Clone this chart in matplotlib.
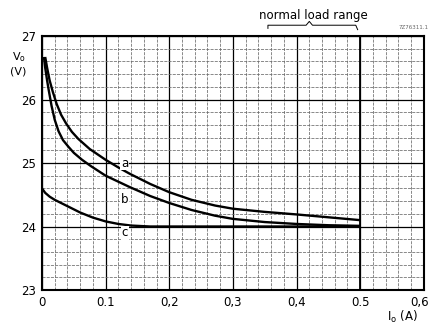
import matplotlib
matplotlib.use("Agg")
import matplotlib.pyplot as plt
from matplotlib.ticker import MultipleLocator
from matplotlib.transforms import ScaledTranslation

# Data
a_I = [0.005, 0.008, 0.012, 0.017, 0.023, 0.03, 0.038, 0.047, 0.057, 0.075, 0.1, 0.12, 0.138, 0.17, 0.2, 0.235, 0.272, 0.3, 0.35, 0.4, 0.45, 0.5]
a_V = [26.67, 26.5, 26.3, 26.12, 25.93, 25.76, 25.62, 25.49, 25.38, 25.22, 25.05, 24.93, 24.83, 24.67, 24.54, 24.42, 24.33, 24.28, 24.23, 24.19, 24.145, 24.10]
b_I = [0.003, 0.005, 0.008, 0.0105, 0.015, 0.02, 0.026, 0.033, 0.042, 0.05, 0.063, 0.077, 0.1, 0.138, 0.17, 0.2, 0.235, 0.272, 0.3, 0.35, 0.4, 0.45, 0.5]
b_V = [26.67, 26.5, 26.3, 26.15, 25.9, 25.68, 25.5, 25.36, 25.25, 25.16, 25.05, 24.95, 24.80, 24.62, 24.48, 24.37, 24.26, 24.17, 24.12, 24.07, 24.04, 24.02, 24.01]
c_I = [0.0, 0.005, 0.012, 0.02, 0.03, 0.04, 0.05, 0.06, 0.07, 0.08, 0.1, 0.12, 0.14, 0.17, 0.2, 0.3, 0.4, 0.5]
c_V = [24.6, 24.53, 24.47, 24.42, 24.37, 24.32, 24.27, 24.22, 24.18, 24.14, 24.08, 24.04, 24.015, 24.0, 24.0, 24.0, 24.0, 24.0]

x_ticks = [0, 0.1, 0.2, 0.3, 0.4, 0.5, 0.6]
x_ticklabels = ["0", "0.1", "0,2", "0,3", "0,4", "0.5", "0,6"]
y_ticks = [23, 24, 25, 26, 27]
curve_labels = ["a", "b", "c"]
label_pos = [(0.13, 25.0), (0.13, 24.43), (0.13, 23.9)]

fig = plt.figure(figsize=(4.3, 3.25), dpi=100)
ax = fig.add_axes([0.0977, 0.1077, 0.888, 0.7815])
ax.set_xlim(0, 0.6)
ax.set_ylim(23, 27)

ax.xaxis.set_minor_locator(MultipleLocator(0.02))
ax.yaxis.set_minor_locator(MultipleLocator(0.2))
ax.set_xticks(x_ticks)
ax.set_xticklabels(x_ticklabels)
ax.set_yticks(y_ticks)
ax.grid(which="minor", color="#6a6a6a", lw=0.55, ls=(0, (4, 1.5)))
ax.grid(which="major", color="black", lw=0.9)
ax.axvline(0.5, color="black", lw=1.3)
ax.tick_params(which="both", length=0, labelsize=8.5, pad=4)
for s in ax.spines.values():
    s.set_linewidth(1.5)
last = ax.get_xticklabels()[-1]
last.set_transform(last.get_transform() + ScaledTranslation(-4 / 100, 0, fig.dpi_scale_trans))

for I, V in [(a_I, a_V), (b_I, b_V), (c_I, c_V)]:
    ax.plot(I, V, color="black", lw=1.7, solid_capstyle="butt", solid_joinstyle="round")

for lab, (x, y) in zip(curve_labels, label_pos):
    ax.text(x, y, lab, fontsize=8.5, ha="center", va="center",
            bbox=dict(fc="white", ec="none", pad=0.5))

fig.text(0.043, 0.805, "V$_\\mathrm{o}$\n(V)", fontsize=8, ha="center", va="center", linespacing=1.25)
fig.text(0.935, 0.025, "I$_\\mathrm{o}$ (A)", fontsize=8.5, ha="center", va="center")
fig.text(0.728, 0.953, "normal load range", fontsize=8.5, ha="center", va="center")
fig.text(0.962, 0.915, "7Z76311.1", fontsize=4, ha="center", va="center", color="#666666")

# brace over normal load range
ax.plot([0.355, 0.355, 0.415, 0.42, 0.425, 0.493, 0.496], [27.12, 27.17, 27.17, 27.23, 27.17, 27.17, 27.1],
        color="black", lw=0.7, clip_on=False)

fig.savefig("out.png", dpi=100)
